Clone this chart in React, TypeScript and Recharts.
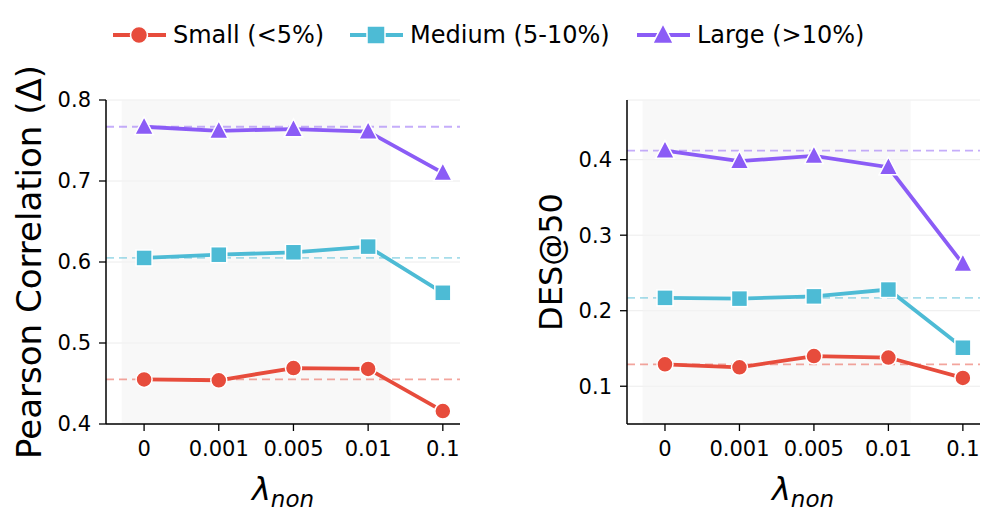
import React from 'react';
import {
  LineChart,
  Line,
  XAxis,
  YAxis,
  CartesianGrid,
  ReferenceLine,
  ReferenceArea,
} from 'recharts';

const lambdas = ['0', '0.001', '0.005', '0.01', '0.1'];

// Pearson correlation (left panel)
const pearsonSmall = [0.455, 0.454, 0.469, 0.468, 0.416];
const pearsonMedium = [0.605, 0.609, 0.612, 0.619, 0.562];
const pearsonLarge = [0.767, 0.762, 0.764, 0.761, 0.710];
const pearsonTicks = [0.4, 0.5, 0.6, 0.7, 0.8];

// DES@50 (right panel)
const desSmall = [0.129, 0.125, 0.14, 0.138, 0.111];
const desMedium = [0.217, 0.216, 0.219, 0.228, 0.151];
const desLarge = [0.412, 0.398, 0.405, 0.39, 0.262];
const desTicks = [0.1, 0.2, 0.3, 0.4];

const RED = '#E74C3C';
const CYAN = '#4DBBD5';
const PURPLE = '#8B5CF6';
const FONT = '"DejaVu Sans", sans-serif';

const buildRows = (small: number[], medium: number[], large: number[]) =>
  lambdas.map((_, i) => ({ x: i, small: small[i], medium: medium[i], large: large[i] }));

const circleDot = (color: string, r = 8) => (p: any) => (
  <circle key={p.index} cx={p.cx} cy={p.cy} r={r} fill={color} stroke="#fff" strokeWidth={1.5} />
);

const squareDot = (color: string, s = 16) => (p: any) => (
  <rect
    key={p.index}
    x={p.cx - s / 2}
    y={p.cy - s / 2}
    width={s}
    height={s}
    fill={color}
    stroke="#fff"
    strokeWidth={1.5}
  />
);

const triPoints = (cx: number, cy: number, s: number) =>
  `${cx},${cy - s * 0.6} ${cx + s * 0.55},${cy + s * 0.45} ${cx - s * 0.55},${cy + s * 0.45}`;

const triangleDot = (color: string, s = 17) => (p: any) => (
  <polygon key={p.index} points={triPoints(p.cx, p.cy, s)} fill={color} stroke="#fff" strokeWidth={1.5} />
);

interface PanelProps {
  left: number;
  width: number;
  axisWidth: number;
  rightMargin: number;
  small: number[];
  medium: number[];
  large: number[];
  domain: [number, number];
  ticks: number[];
}

function Panel({ left, width, axisWidth, rightMargin, small, medium, large, domain, ticks }: PanelProps) {
  const rows = buildRows(small, medium, large);
  const tickStyle = { fontSize: 21, fill: '#000', fontFamily: FONT };
  return (
    <div style={{ position: 'absolute', left, top: 0 }}>
      <LineChart
        width={width}
        height={518}
        data={rows}
        margin={{ top: 100, right: rightMargin, bottom: 0, left: 0 }}
      >
        <ReferenceArea x1={-0.3} x2={3.3} fill="#f4f4f4" fillOpacity={0.6} stroke="none" ifOverflow="hidden" />
        <CartesianGrid vertical={false} stroke="#ececec" strokeWidth={1} />
        <XAxis
          type="number"
          dataKey="x"
          domain={[-0.51, 4.23]}
          ticks={[0, 1, 2, 3, 4]}
          tickFormatter={(v: number) => lambdas[v]}
          allowDataOverflow
          height={94}
          tickSize={7}
          tickMargin={10}
          axisLine={{ stroke: '#000', strokeWidth: 1.5 }}
          tickLine={{ stroke: '#000', strokeWidth: 1.3 }}
          tick={tickStyle}
          interval={0}
        />
        <YAxis
          type="number"
          domain={domain}
          ticks={ticks}
          tickFormatter={(v: number) => v.toFixed(1)}
          allowDataOverflow
          width={axisWidth}
          tickSize={7}
          tickMargin={8}
          axisLine={{ stroke: '#000', strokeWidth: 1.5 }}
          tickLine={{ stroke: '#000', strokeWidth: 1.3 }}
          tick={tickStyle}
          interval={0}
        />
        <ReferenceLine y={large[0]} stroke={PURPLE} strokeOpacity={0.5} strokeWidth={1.8} strokeDasharray="8 5" />
        <ReferenceLine y={medium[0]} stroke={CYAN} strokeOpacity={0.5} strokeWidth={1.8} strokeDasharray="8 5" />
        <ReferenceLine y={small[0]} stroke={RED} strokeOpacity={0.5} strokeWidth={1.8} strokeDasharray="8 5" />
        <Line
          dataKey="small"
          stroke={RED}
          strokeWidth={3.8}
          dot={circleDot(RED)}
          activeDot={false}
          isAnimationActive={false}
        />
        <Line
          dataKey="medium"
          stroke={CYAN}
          strokeWidth={3.8}
          dot={squareDot(CYAN)}
          activeDot={false}
          isAnimationActive={false}
        />
        <Line
          dataKey="large"
          stroke={PURPLE}
          strokeWidth={3.8}
          dot={triangleDot(PURPLE)}
          activeDot={false}
          isAnimationActive={false}
        />
      </LineChart>
    </div>
  );
}

const legendItems = [
  { label: 'Small (<5%)', color: RED, x: 113, shape: 'circle' },
  { label: 'Medium (5-10%)', color: CYAN, x: 350, shape: 'square' },
  { label: 'Large (>10%)', color: PURPLE, x: 637, shape: 'triangle' },
];

function Overlay() {
  const ly = 35;
  return (
    <svg
      width={997}
      height={518}
      style={{ position: 'absolute', left: 0, top: 0, pointerEvents: 'none' }}
      fontFamily={FONT}
    >
      {legendItems.map((it) => {
        const mx = it.x + 26;
        return (
          <g key={it.label}>
            <line x1={it.x} x2={it.x + 53} y1={ly} y2={ly} stroke={it.color} strokeWidth={3.8} />
            {it.shape === 'circle' && <circle cx={mx} cy={ly} r={8.5} fill={it.color} stroke="#fff" strokeWidth={1.5} />}
            {it.shape === 'square' && (
              <rect x={mx - 9} y={ly - 9} width={18} height={18} fill={it.color} stroke="#fff" strokeWidth={1.5} />
            )}
            {it.shape === 'triangle' && (
              <polygon points={triPoints(mx, ly, 19)} fill={it.color} stroke="#fff" strokeWidth={1.5} />
            )}
            <text x={it.x + 60} y={43} fontSize={24} fill="#000">
              {it.label}
            </text>
          </g>
        );
      })}
      <text transform="translate(41,262) rotate(-90)" textAnchor="middle" fontSize={34} fill="#000">
        Pearson Correlation (Δ)
      </text>
      <text transform="translate(562,262) rotate(-90)" textAnchor="middle" fontSize={32} fill="#000">
        DES@50
      </text>
      {[283, 803].map((cx) => (
        <text key={cx} x={cx} y={500} textAnchor="middle" fontSize={32} fill="#000" fontStyle="italic">
          λ
          <tspan fontSize={23} dy={7}>
            non
          </tspan>
        </text>
      ))}
    </svg>
  );
}

export default function App() {
  return (
    <div
      style={{
        position: 'absolute',
        left: 0,
        top: 0,
        width: 997,
        height: 518,
        background: '#fff',
        fontFamily: FONT,
        overflow: 'hidden',
      }}
    >
      <Panel
        left={0}
        width={480}
        axisWidth={106}
        rightMargin={20}
        small={pearsonSmall}
        medium={pearsonMedium}
        large={pearsonLarge}
        domain={[0.4, 0.8]}
        ticks={pearsonTicks}
      />
      <Panel
        left={520}
        width={477}
        axisWidth={107}
        rightMargin={17}
        small={desSmall}
        medium={desMedium}
        large={desLarge}
        domain={[0.05, 0.479]}
        ticks={desTicks}
      />
      <Overlay />
    </div>
  );
}
